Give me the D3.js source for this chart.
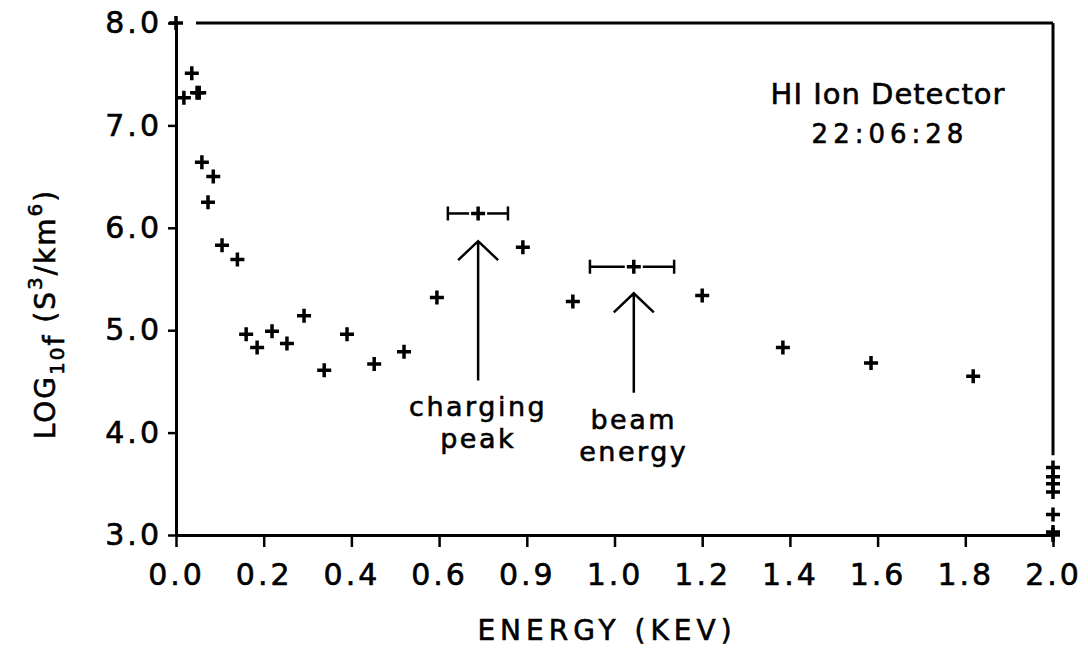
<!DOCTYPE html>
<html>
<head>
<meta charset="utf-8">
<script src="https://cdn.jsdelivr.net/npm/d3@7"></script>
<style>
  html, body { margin: 0; padding: 0; background: #fff; }
  svg text { font-family: "DejaVu Sans", sans-serif; fill: #000; stroke: #000; stroke-width: 0.6px; }
</style>
</head>
<body>
<svg id="chart" width="1088" height="652"></svg>
<script>
// measured points, energy in keV and log10 f
const energy = [0.0, 0.018, 0.036, 0.048, 0.053, 0.059, 0.073, 0.085, 0.105, 0.14,
  0.16, 0.185, 0.219, 0.253, 0.292, 0.338, 0.39, 0.452, 0.52, 0.595,
  0.689, 0.791, 0.905, 1.044, 1.2, 1.384, 1.585, 1.818,
  2.0, 2.0, 2.0, 2.0, 2.0, 2.0, 2.0];
const logf = [8.0, 7.27, 7.51, 7.32, 7.32, 6.64, 6.25, 6.50, 5.83, 5.69,
  4.96, 4.83, 4.99, 4.87, 5.14, 4.61, 4.96, 4.67, 4.79, 5.32,
  6.14, 5.81, 5.28, 5.62, 5.34, 4.83, 4.68, 4.55,
  3.66, 3.57, 3.5, 3.42, 3.2, 3.03, 3.0];

// horizontal error bars (centre energy, low, high, value)
const errCenter = [0.689, 1.044];
const errLow = [0.62, 0.944];
const errHigh = [0.757, 1.136];
const errValue = [6.14, 5.62];

// arrows with their captions
const arrowEnergy = [0.689, 1.044];
const arrowTip = [5.87, 5.36];
const arrowBase = [4.51, 4.39];
const arrowLabels = [["charging", "peak"], ["beam", "energy"]];

const xTickValues = [0, 0.2, 0.4, 0.6, 0.8, 1.0, 1.2, 1.4, 1.6, 1.8, 2.0];
const xTickLabels = ["0.0", "0.2", "0.4", "0.6", "0.9", "1.0", "1.2", "1.4", "1.6", "1.8", "2.0"];
const yTickValues = [3, 4, 5, 6, 7, 8];

const svg = d3.select("#chart");

const x = d3.scaleLinear().domain([0, 2]).range([176, 1053]);
const y = d3.scaleLinear().domain([3, 8]).range([535, 23]);

const lw = 3;

// x axis
const xAxis = svg.append("g")
  .attr("transform", `translate(0,${y(3)})`)
  .call(d3.axisBottom(x)
    .tickValues(xTickValues)
    .tickFormat((d, i) => xTickLabels[i])
    .tickSizeOuter(0)
    .tickSizeInner(12)
    .tickPadding(17));
xAxis.select(".domain").attr("stroke-width", lw);
xAxis.selectAll(".tick line").attr("stroke-width", 2.5);
xAxis.selectAll(".tick text")
  .attr("font-size", 30)
  .attr("letter-spacing", 3)
  .attr("font-family", "DejaVu Sans")
  .attr("fill", "#000");

// y axis
const yAxis = svg.append("g")
  .attr("transform", `translate(${x(0)},0)`)
  .call(d3.axisLeft(y)
    .tickValues(yTickValues)
    .tickFormat(d3.format(".1f"))
    .tickSizeOuter(0)
    .tickSizeInner(8)
    .tickPadding(6));
yAxis.select(".domain").attr("stroke-width", lw);
yAxis.selectAll(".tick line").attr("stroke-width", 2.5);
yAxis.selectAll(".tick text")
  .attr("font-size", 30)
  .attr("letter-spacing", 3)
  .attr("font-family", "DejaVu Sans")
  .attr("fill", "#000");

// frame: top and right sides
svg.append("line")
  .attr("x1", x(0) + 20).attr("x2", x(2))
  .attr("y1", y(8)).attr("y2", y(8))
  .attr("stroke", "#000").attr("stroke-width", lw);
svg.append("line")
  .attr("x1", x(2)).attr("x2", x(2))
  .attr("y1", y(8)).attr("y2", y(3.78))
  .attr("stroke", "#000").attr("stroke-width", lw);

// error bars
const gap = 9, cap = 7;
errCenter.forEach((c, i) => {
  const yy = y(errValue[i]);
  const g = svg.append("g").attr("stroke", "#000").attr("stroke-width", 2.5);
  g.append("line").attr("x1", x(errLow[i])).attr("x2", x(c) - gap).attr("y1", yy).attr("y2", yy);
  g.append("line").attr("x1", x(c) + gap).attr("x2", x(errHigh[i])).attr("y1", yy).attr("y2", yy);
  g.append("line").attr("x1", x(errLow[i])).attr("x2", x(errLow[i])).attr("y1", yy - cap).attr("y2", yy + cap);
  g.append("line").attr("x1", x(errHigh[i])).attr("x2", x(errHigh[i])).attr("y1", yy - cap).attr("y2", yy + cap);
});

// data crosses
const arm = 7;
svg.append("g")
  .selectAll("path")
  .data(energy.map((e, i) => [e, logf[i]]))
  .join("path")
  .attr("transform", (d) => `translate(${x(d[0])},${y(d[1])})`)
  .attr("d", `M${-arm},0H${arm}M0,${-arm}V${arm}`)
  .attr("stroke", "#000")
  .attr("stroke-width", 3.5)
  .attr("fill", "none");

// arrows
arrowEnergy.forEach((e, i) => {
  const ax = x(e), tip = y(arrowTip[i]), base = y(arrowBase[i]);
  svg.append("path")
    .attr("d", `M${ax},${base}V${tip}M${ax - 20},${tip + 19}L${ax},${tip}L${ax + 20},${tip + 19}`)
    .attr("stroke", "#000")
    .attr("stroke-width", 2.5)
    .attr("fill", "none");
  const t = svg.append("text")
    .attr("text-anchor", "middle")
    .attr("font-size", 27)
    .attr("letter-spacing", 2.5);
  arrowLabels[i].forEach((s, k) => {
    t.append("tspan")
      .attr("x", ax)
      .attr("y", base + 36 + k * 32)
      .text(s);
  });
});

// detector caption
svg.append("text")
  .attr("x", 888).attr("y", 104)
  .attr("text-anchor", "middle")
  .attr("font-size", 29)
  .attr("letter-spacing", 1)
  .text("HI Ion Detector");
svg.append("text")
  .attr("x", 890).attr("y", 143)
  .attr("text-anchor", "middle")
  .attr("font-size", 26)
  .attr("letter-spacing", 5)
  .text("22:06:28");

// axis titles
svg.append("text")
  .attr("x", 607).attr("y", 640)
  .attr("text-anchor", "middle")
  .attr("font-size", 28)
  .attr("letter-spacing", 5)
  .text("ENERGY (KEV)");

const yt = svg.append("text")
  .attr("transform", "translate(55,314) rotate(-90)")
  .attr("text-anchor", "middle")
  .attr("font-size", 28)
  .attr("letter-spacing", 2);
yt.append("tspan").text("LOG");
yt.append("tspan").attr("font-size", 20).attr("dy", 9).text("10");
yt.append("tspan").text("f");
yt.append("tspan").attr("dy", -9).text(" (S");
yt.append("tspan").attr("font-size", 20).attr("dy", -13).text("3");
yt.append("tspan").attr("dy", 13).text("/km");
yt.append("tspan").attr("font-size", 20).attr("dy", -13).text("6");
yt.append("tspan").attr("dy", 13).text(")");
</script>
</body>
</html>
